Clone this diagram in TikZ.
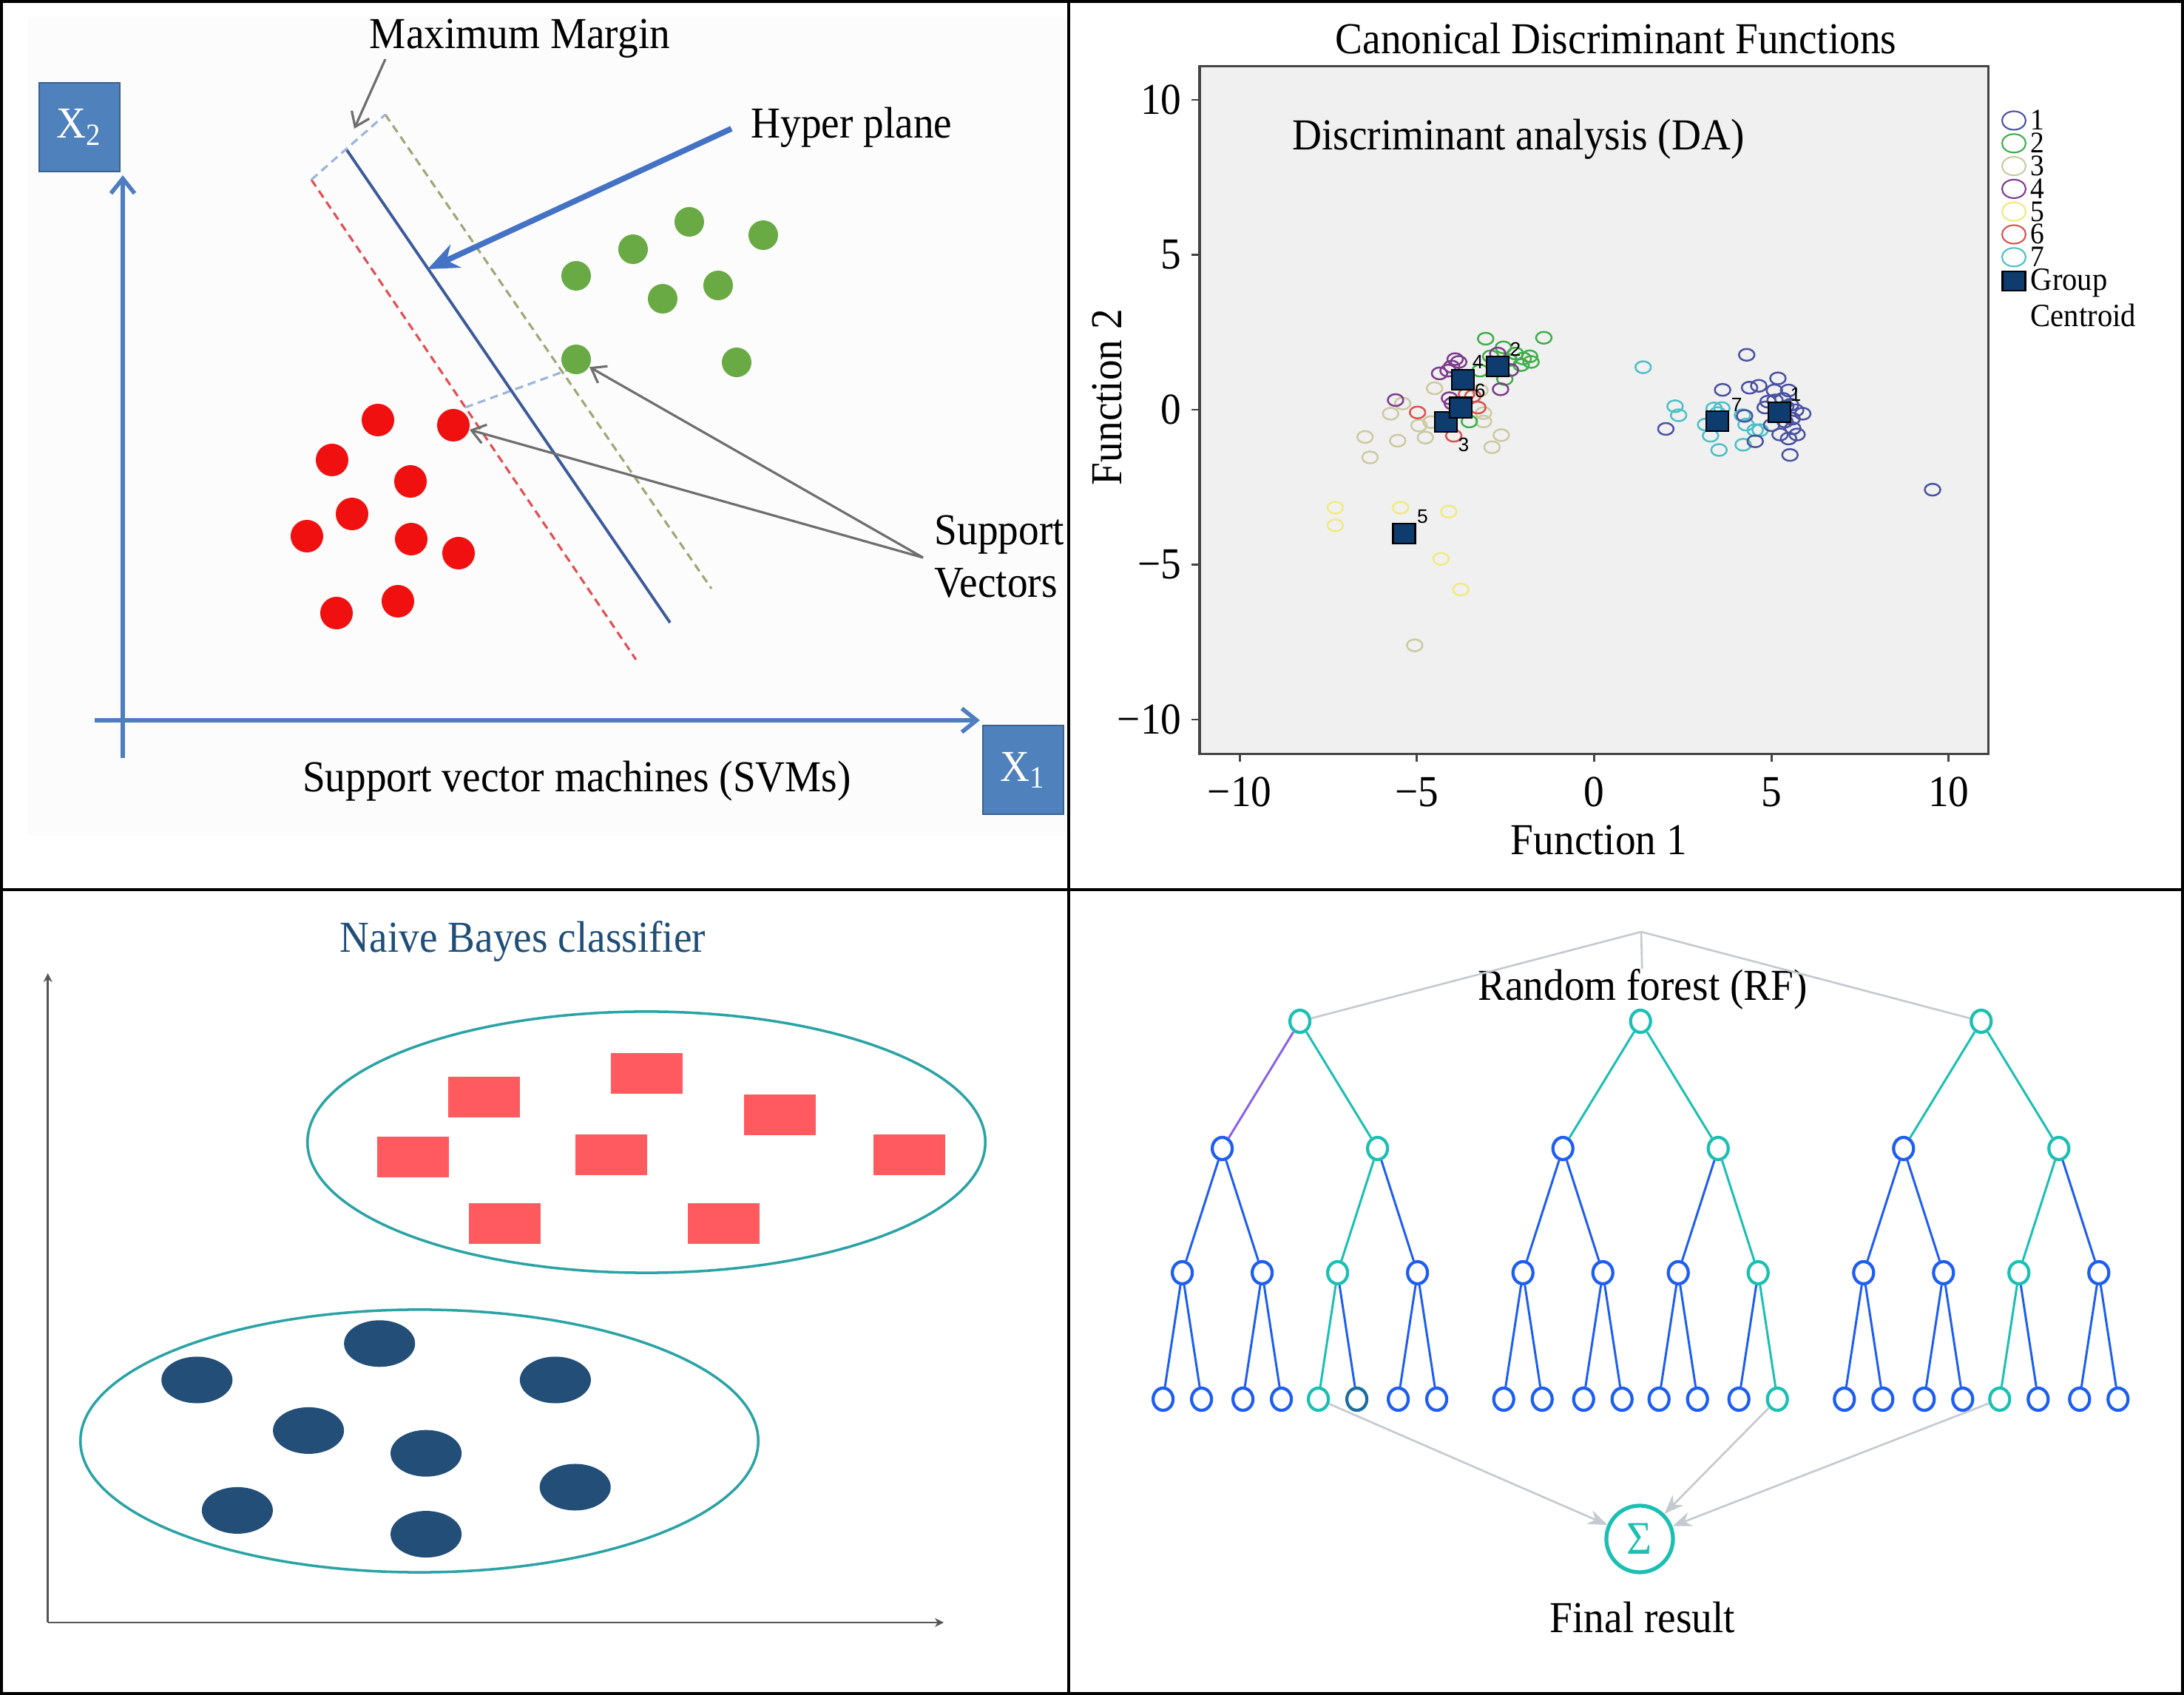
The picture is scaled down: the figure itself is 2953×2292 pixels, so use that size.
\documentclass[tikz,border=0pt]{standalone}
\usepackage{fontspec}
\setmainfont{Liberation Serif}[FakeStretch=0.925]
\setsansfont{Liberation Sans}
\usetikzlibrary{arrows.meta,shapes.geometric}

\definecolor{boxblue}{HTML}{4F81BD}
\definecolor{axisblue}{HTML}{4F7EC0}
\definecolor{hpblue}{HTML}{3D5A99}
\definecolor{arrowblue}{HTML}{4472C4}
\definecolor{svgreen}{HTML}{6AAA45}
\definecolor{svred}{HTML}{F01010}
\definecolor{redline}{HTML}{E05055}
\definecolor{oliveline}{HTML}{A0A878}
\definecolor{lightblueline}{HTML}{9CB6DA}
\definecolor{arrowgray}{HTML}{6E6E6E}
\definecolor{svmbg}{HTML}{FCFCFC}
\definecolor{plotbg}{HTML}{F0F0F0}
\definecolor{plotborder}{HTML}{444444}
\definecolor{daA}{HTML}{4A52A0}
\definecolor{daB}{HTML}{3EAF4A}
\definecolor{daC}{HTML}{CDC9A2}
\definecolor{daD}{HTML}{7D3C8C}
\definecolor{daE}{HTML}{F0EA80}
\definecolor{daF}{HTML}{D9534F}
\definecolor{daG}{HTML}{4CC0C8}
\definecolor{cenfill}{HTML}{0F3C6E}
\definecolor{rfteal}{HTML}{1BBFB3}
\definecolor{rfblue}{HTML}{1E5EF0}
\definecolor{rfviolet}{HTML}{8A63E8}
\definecolor{rfdark}{HTML}{1B6E9E}
\definecolor{rfgraycol}{HTML}{C5CAD0}
\definecolor{nbgray}{HTML}{555555}
\definecolor{nbteal}{HTML}{2BA3A5}
\definecolor{nbred}{HTML}{FF5A5F}
\definecolor{nbblue}{HTML}{234E78}
\definecolor{nbtitle}{HTML}{1F4E79}

\begin{document}
\begin{tikzpicture}[x=0.01cm,y=-0.01cm,
  txt/.style={inner sep=0pt,font=\fontsize{17}{20}\selectfont},
  legtxt/.style={inner sep=0pt,font=\fontsize{11.5}{13}\selectfont,anchor=base west},
  panelframe/.style={line width=0.04cm,black},
  svmbox/.style={rectangle,fill=boxblue,draw=boxblue!75!black,line width=0.6pt,minimum width=1.09cm,minimum height=1.2cm,inner sep=0pt,text=white,font=\fontsize{17}{20}\selectfont},
  svmaxis/.style={draw=axisblue,line width=1.6pt,-{Straight Barb[length=0.2cm,width=0.32cm]}},
  gdot/.style={circle,fill=svgreen,inner sep=0pt,minimum size=0.40cm},
  rdot/.style={circle,fill=svred,inner sep=0pt,minimum size=0.44cm},
  grayarrow/.style={draw=arrowgray,line width=0.9pt,-{Straight Barb[length=0.18cm,width=0.26cm]}},
  mk/.style={line width=0.7pt},
  centroid/.style={rectangle,fill=cenfill,draw=black,line width=0.6pt,minimum width=0.30cm,minimum height=0.27cm,inner sep=0pt},
  cenlbl/.style={inner sep=0pt,font=\sffamily\fontsize{7.5}{8}\selectfont},
  plotaxis/.style={draw=plotborder,line width=0.8pt},
  rfnode/.style={ellipse,fill=white,line width=1.2pt,minimum width=0.27cm,minimum height=0.30cm,inner sep=0pt},
  rfedge/.style={line width=0.85pt},
  rfgray/.style={draw=rfgraycol,line width=0.75pt},
  rfarrow/.style={draw=rfgraycol,line width=0.75pt,-{Stealth[length=0.26cm,width=0.2cm]}},
  nbaxis/.style={draw=nbgray,line width=0.8pt,-{Stealth[length=0.12cm,width=0.12cm]}},
  nbell/.style={draw=nbteal,line width=1pt},
]
\useasboundingbox (0,0) rectangle (2953,2292);
\fill[white] (0,0) rectangle (2953,2292);

% ================= SVM panel =================
\fill[svmbg] (37,23) rectangle (1443,1129);
\node[svmbox] (x2box) at (107.5,172) {X\textsubscript{2}};
\node[svmbox] (x1box) at (1383.5,1041) {X\textsubscript{1}};
\coordinate (yaxb) at (166,1025);
\coordinate (yaxt) at (166,237);
\coordinate (xaxl) at (128,974);
\coordinate (xaxr) at (1325,974);
\draw[svmaxis] (yaxb) -- (yaxt);
\draw[svmaxis] (xaxl) -- (xaxr);

\coordinate (rd1) at (421,243);
\coordinate (rd2) at (860,892);
\coordinate (gd1) at (521,155);
\coordinate (gd2) at (962,796);
\coordinate (hp1) at (469,203);
\coordinate (hp2) at (906,842);
\coordinate (sd1) at (629,551);
\coordinate (sd2) at (777,497);
\draw[redline,line width=0.9pt,dash pattern=on 0.11cm off 0.07cm] (rd1) -- (rd2);
\draw[oliveline,line width=0.9pt,dash pattern=on 0.11cm off 0.07cm] (gd1) -- (gd2);
\draw[lightblueline,line width=0.9pt,dash pattern=on 0.11cm off 0.07cm] (rd1) -- (gd1);
\draw[lightblueline,line width=0.9pt,dash pattern=on 0.11cm off 0.07cm] (sd1) -- (sd2);
\draw[hpblue,line width=1.1pt] (hp1) -- (hp2);

\foreach \n/\a/\b in {1/779/373, 2/856/337, 3/932/300, 4/1032/318, 5/896/404, 6/971/386, 7/779/486, 8/996/490}
  \node[gdot] (g\n) at (\a,\b) {};
\foreach \n/\a/\b in {1/511/568, 2/613/575, 3/449/622, 4/555/651, 5/476/695, 6/415/725, 7/556/729, 8/620/748, 9/455/829, 10/538/813}
  \node[rdot] (r\n) at (\a,\b) {};

\node[txt] (mmtxt) at (703,52) {Maximum Margin};
\node[txt,anchor=west] (hptxt) at (1015,172) {Hyper plane};
\node[txt,anchor=west] (svtxt1) at (1263,723) {Support};
\node[txt,anchor=west] (svtxt2) at (1263,788) {Vectors};
\node[txt] (svmtitle) at (780,1056) {Support vector machines (SVMs)};

\coordinate (mmsrc) at (521,80);
\coordinate (mmtgt) at (479,174);
\draw[grayarrow] (mmsrc) -- (mmtgt);
\coordinate (hpsrc) at (989,174);
\coordinate (hptgt) at (578,364);
\draw[arrowblue,line width=2.2pt,-{Stealth[length=0.42cm,width=0.34cm]}] (hpsrc) -- (hptgt);
\coordinate (svsrc) at (1248,754);
\draw[grayarrow] (svsrc) -- (g7);
\draw[grayarrow] (svsrc) -- (r2);

% ================= DA panel =================
\node[txt] (datitle) at (2185,52) {Canonical Discriminant Functions};
\draw[draw=plotborder,line width=0.9pt,fill=plotbg] (1622,89.5) rectangle (2688.5,1019.4);
\foreach \v/\lab in {-10/−10,-5/−5,0/0,5/5,10/10}{
  \draw[plotaxis] ({2155.5+47.93*\v},1019.4) -- ({2155.5+47.93*\v},1030);
  \node[txt] (xl\v) at ({2155.5+47.93*\v},1071) {\lab};
  \draw[plotaxis] (1611,{554-41.9*\v}) -- (1622,{554-41.9*\v});
  \node[txt,anchor=east] (yl\v) at (1598,{554-41.9*\v}) {\lab};
}
\node[txt] (f1) at (2162,1136) {Function 1};
\node[txt,rotate=90] (f2) at (1497,537) {Function 2};
\node[txt] (dalabel) at (2053,188) {Discriminant analysis (DA)};

\begin{scope}[shift={(2155.5,554)},x=0.4793cm,y=0.419cm]
  \foreach \a/\b in {-4.5/0.69,-5.4/0.2,-5.74/-0.13,-4.94/-0.51,-4.76/-0.9,-5.54/-1.0,-6.46/-0.88,-6.32/-1.54,-5.06/-7.6,-3.12/-0.38,-2.62/-0.82,-2.88/-1.21,-3.12/-0.11,-3.22/0.62,-4.6/-0.4}
    \draw[mk,daC] (\a,\b) ellipse [x radius=0.105cm,y radius=0.08cm];
  \foreach \a/\b in {-7.3/-3.16,-7.3/-3.73,-5.46/-3.16,-4.1/-3.29,-4.32/-4.81,-3.76/-5.8}
    \draw[mk,daE] (\a,\b) ellipse [x radius=0.105cm,y radius=0.08cm];
  \foreach \a/\b in {-3.06/2.29,-1.42/2.32,-2.56/2.01,-1.82/1.72,-1.78/1.54,-2.06/1.44,-2.52/0.99,-2.92/1.72,-2.22/1.81,-3.22/1.26,-3.52/-0.38,-2.4/1.6,-2.0/1.65}
    \draw[mk,daB] (\a,\b) ellipse [x radius=0.105cm,y radius=0.08cm];
  \foreach \a/\b in {-3.92/1.63,-4.02/1.39,-4.36/1.17,-4.12/1.26,-3.82/1.54,-2.64/0.66,-2.36/1.28,-5.6/0.31,-4.08/0.37,-2.72/1.81,-4.0/0.2}
    \draw[mk,daD] (\a,\b) ellipse [x radius=0.105cm,y radius=0.08cm];
  \foreach \a/\b in {-4.98/-0.09,-3.28/0.07,-3.96/-0.84,-3.42/0.44,-3.6/0.5}
    \draw[mk,daF] (\a,\b) ellipse [x radius=0.105cm,y radius=0.08cm];
  \foreach \a/\b in {1.38/1.37,2.28/0.11,2.38/-0.18,3.14/-0.48,3.38/0.04,3.28/-0.84,3.52/-1.3,4.2/-1.13,4.54/-0.66,4.68/-0.66,4.28/-0.48,3.48/-0.11,4.18/-0.18,3.6/0.05}
    \draw[mk,daG] (\a,\b) ellipse [x radius=0.105cm,y radius=0.08cm];
  \foreach \a/\b in {2.02/-0.62,4.3/1.77,3.62/0.64,4.38/0.71,4.64/0.77,5.18/1.01,5.48/0.62,5.08/0.62,4.9/0.26,4.82/0.07,5.88/-0.13,5.58/-0.29,5.38/-0.38,5.24/-0.8,5.72/-0.8,5.52/-1.46,4.54/-1.02,5.48/-0.93,9.54/-2.58,4.24/-0.2,5.32/0.35,5.54/0.16,5.68/-0.02,5.0/-0.5,5.4/0.1,5.1/0.3,5.6/-0.6,5.3/-0.15}
    \draw[mk,daA] (\a,\b) ellipse [x radius=0.105cm,y radius=0.08cm];
  \foreach \n/\a/\b/\la/\lb in {1/5.22/-0.09/5.68/0.48, 2/-2.72/1.39/-2.22/1.96, 3/-4.18/-0.40/-3.68/-1.12, 4/-3.7/0.97/-3.28/1.54, 5/-5.36/-3.99/-4.84/-3.44, 6/-3.76/0.07/-3.22/0.62, 7/3.48/-0.38/4.02/0.16}{
    \node[centroid] (cen\n) at (\a,\b) {};
    \node[cenlbl] (cl\n) at (\la,\lb) {\n};
  }
\end{scope}

% legend
\foreach \k/\col in {0/daA,1/daB,2/daC,3/daD,4/daE,5/daF,6/daG}{
  \draw[\col,line width=0.6pt] (2723,{163+30.8*\k}) ellipse [x radius=0.16cm,y radius=0.125cm];
  \pgfmathtruncatemacro\num{\k+1}
  \node[legtxt] (leg\k) at (2745,{176+30.8*\k}) {\num};
}
\node[centroid,minimum width=0.31cm,minimum height=0.26cm] (legcen) at (2723,380) {};
\node[legtxt,font=\fontsize{12.5}{14}\selectfont] (leggroup) at (2745,393) {Group};
\node[legtxt,font=\fontsize{12.5}{14}\selectfont] (legcentroid) at (2745,442) {Centroid};

% ================= Naive Bayes panel =================
\node[txt,text=nbtitle] (nbtitle) at (707,1273) {Naive Bayes classifier};
\coordinate (nbo) at (64.7,2194);
\coordinate (nbyt) at (64.7,1316);
\coordinate (nbxr) at (1276,2194);
\draw[nbaxis] (nbo) -- (nbyt);
\draw[nbaxis] (nbo) -- (nbxr);
\draw[nbell] (874,1544.5) ellipse [x radius=4.58cm,y radius=1.765cm];
\draw[nbell] (567,1948.5) ellipse [x radius=4.58cm,y radius=1.775cm];
\foreach \a/\b in {605.7/1456.5, 825.8/1423.7, 1006.1/1479.8, 510.4/1537.2, 777.7/1534.5, 1180.9/1534.5, 633.5/1626.8, 930.3/1626.8}
  \fill[nbred] (\a,\b) rectangle +(97,55);
\foreach \a/\b in {513.2/1816.8, 266.3/1866, 750.9/1866, 417.1/1934.4, 576.1/1965.2, 777.7/2011, 320.9/2042.4, 576.1/2074.6}
  \fill[nbblue] (\a,\b) ellipse [x radius=0.48cm,y radius=0.315cm];

% ================= Random forest panel =================
\foreach \i/\dx/\yy/\ca/\cb/\cc in {
  1/0/1381/rfteal/rfteal/rfteal,
  2/-105/1553/rfblue/rfblue/rfblue,
  3/105/1553/rfteal/rfteal/rfteal,
  4/-159/1721/rfblue/rfblue/rfblue,
  5/-51/1721/rfblue/rfblue/rfblue,
  6/51/1721/rfteal/rfblue/rfteal,
  7/159/1721/rfblue/rfteal/rfblue,
  8/-185/1892/rfblue/rfblue/rfblue,
  9/-133/1892/rfblue/rfblue/rfblue,
  10/-77/1892/rfblue/rfblue/rfblue,
  11/-25/1892/rfblue/rfblue/rfblue,
  12/25/1892/rfteal/rfblue/rfteal,
  13/77/1892/rfdark/rfblue/rfblue,
  14/133/1892/rfblue/rfblue/rfblue,
  15/185/1892/rfblue/rfteal/rfblue}{
  \foreach \t/\rx/\col in {1/1757.6/\ca, 2/2218.2/\cb, 3/2678.8/\cc}{
    \node[rfnode,draw=\col] (T\t-\i) at ({\rx+\dx},\yy) {};
  }
}
\foreach \i/\ea/\eb/\ec in {
  2/rfviolet/rfteal/rfteal,
  3/rfteal/rfteal/rfteal,
  4/rfblue/rfblue/rfblue,
  5/rfblue/rfblue/rfblue,
  6/rfteal/rfblue/rfteal,
  7/rfblue/rfteal/rfblue,
  8/rfblue/rfblue/rfblue,
  9/rfblue/rfblue/rfblue,
  10/rfblue/rfblue/rfblue,
  11/rfblue/rfblue/rfblue,
  12/rfteal/rfblue/rfteal,
  13/rfblue/rfblue/rfblue,
  14/rfblue/rfblue/rfblue,
  15/rfblue/rfteal/rfblue}{
  \pgfmathtruncatemacro\p{\i/2}
  \foreach \t/\col in {1/\ea, 2/\eb, 3/\ec}{
    \draw[rfedge,draw=\col] (T\t-\p) -- (T\t-\i);
  }
}
\node[txt] (rftitle) at (2221,1338) {Random forest (RF)};
\coordinate (apex) at (2219,1260);
\draw[rfgray] (apex) -- (T1-1);
\draw[rfgray] (apex) -- (T3-1);
\draw[rfgray] (apex) -- (rftitle);

\node[circle,draw=rfteal,line width=1.5pt,minimum size=0.9cm,inner sep=0pt,text=rfteal,font=\fontsize{18}{20}\selectfont] (sig) at (2217,2081) {Σ};
\draw[rfarrow] (T1-12) -- (sig);
\draw[rfarrow] (T2-15) -- (sig);
\draw[rfarrow] (T3-12) -- (sig);
\node[txt] (final) at (2221,2187) {Final result};

% ================= frames =================
\draw[panelframe] (1445,0) -- (1445,2292);
\draw[panelframe] (0,1203) -- (2953,1203);
\draw[panelframe] (2,2) rectangle (2951,2290);
\end{tikzpicture}
\end{document}
